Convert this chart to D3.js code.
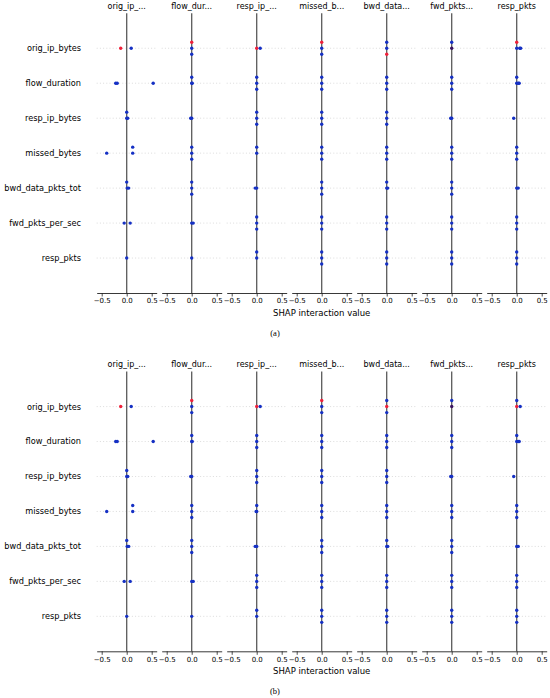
<!DOCTYPE html>
<html><head><meta charset="utf-8">
<script src="https://cdn.jsdelivr.net/npm/d3@7"></script>
<style>body{margin:0;background:#fff}svg{display:block}text{font-family:"DejaVu Sans",sans-serif}</style>
</head><body><svg id="chart" width="550" height="698"></svg>
<script>
// ---------- data ----------
const features = ["orig_ip_bytes","flow_duration","resp_ip_bytes","missed_bytes","bwd_data_pkts_tot","fwd_pkts_per_sec","resp_pkts"];
const columnTitles = ["orig_ip_...","flow_dur...","resp_ip_...","missed_b...","bwd_data...","fwd_pkts...","resp_pkts"];
const tickValues = [-0.5, 0, 0.5];
const xLabel = "SHAP interaction value";
const captions = ["(a)", "(b)"];
// dots: [column, row, SHAP interaction value, swarm lane, feature level (0 low .. 1 high)]
const dotsA = [
 [0,0,-0.12,0,1],[0,0,0.09,0,0],
 [0,1,-0.22,0,0],[0,1,-0.19,0,0],[0,1,0.53,0,0],
 [0,2,0,-1,0],[0,2,0,0,0],[0,2,0.02,0,0],
 [0,3,0.12,-1,0],[0,3,0.12,0,0],[0,3,-0.40,0,0],
 [0,4,0,-1,0],[0,4,0.01,0,0],[0,4,0.04,0,0],
 [0,5,-0.05,0,0],[0,5,0.07,0,0],
 [0,6,0,0,0],
 [1,0,0,-1,1],[1,0,0,0,0],[1,0,0,1,0],
 [1,1,0,-1,0],[1,1,0,0,0],[1,1,0.01,0,0],
 [1,2,-0.02,0,0],[1,2,0,0,0],
 [1,3,0,-1,0],[1,3,0,0,0],[1,3,0,1,0],
 [1,4,0,-1,0],[1,4,0,0,0],[1,4,0,1,0],
 [1,5,0,0,0],[1,5,0.03,0,0],
 [1,6,0,0,0],
 [2,0,0,0,1],[2,0,0.07,0,0],
 [2,1,0,-1,0],[2,1,0,0,0],[2,1,0,1,0],
 [2,2,0,-1,0],[2,2,0,0,0],[2,2,0,1,0],
 [2,3,0,-1,0],[2,3,0,0,0],
 [2,4,-0.03,0,0],[2,4,0,0,0],
 [2,5,0,-1,0],[2,5,0,0,0],[2,5,0,1,0],
 [2,6,0,-1,0],[2,6,0,0,0],
 [3,0,0,-1,1],[3,0,0,0,0],[3,0,0,1,0],
 [3,1,0,-1,0],[3,1,0,0,0],[3,1,0,1,0],
 [3,2,0,-1,0],[3,2,0,0,0],[3,2,0,1,0],
 [3,3,0,-1,0],[3,3,0,0,0],[3,3,0,1,0],
 [3,4,0,-1,0],[3,4,0,0,0],[3,4,0,1,0],
 [3,5,0,-1,0],[3,5,0,0,0],[3,5,0,1,0],
 [3,6,0,-1,0],[3,6,0,0,0],[3,6,0,1,0],
 [4,0,0,-1,0],[4,0,0,0,0],[4,0,0,1,1],
 [4,1,0,-1,0],[4,1,0,0,0],[4,1,0,1,0],
 [4,2,0,-1,0],[4,2,0,0,0],[4,2,0,1,0],
 [4,3,0,-1,0],[4,3,0,0,0],[4,3,0,1,0],
 [4,4,0,-1,0],[4,4,0,0,0],[4,4,0.02,0,0],
 [4,5,0,-1,0],[4,5,0,0,0],[4,5,0,1,0],
 [4,6,0,-1,0],[4,6,0,0,0],[4,6,0,1,0],
 [5,0,0,-1,0],[5,0,0,0,0.5],
 [5,1,0,-1,0],[5,1,0,0,0],[5,1,0,1,0],
 [5,2,-0.02,0,0],[5,2,0,0,0],
 [5,3,0,-1,0],[5,3,0,0,0],[5,3,0,1,0],
 [5,4,0,-1,0],[5,4,0,0,0],[5,4,0,1,0],
 [5,5,0,-1,0],[5,5,0,0,0],[5,5,0,1,0],
 [5,6,0,-1,0],[5,6,0,0,0],[5,6,0,1,0],
 [6,0,0,-1,1],[6,0,0,0,0],[6,0,0.06,0,0],[6,0,0.08,0,0],
 [6,1,0,-1,0],[6,1,0,0,0],[6,1,0.03,0,0],[6,1,0.05,0,0],
 [6,2,-0.06,0,0],
 [6,3,0,-1,0],[6,3,0,0,0],[6,3,0,1,0],
 [6,4,0,0,0],[6,4,0.03,0,0],
 [6,5,0,-1,0],[6,5,0,0,0],[6,5,0,1,0],
 [6,6,0,-1,0],[6,6,0,0,0],[6,6,0,1,0]
];
const dotsB = [
 [0,0,-0.12,0,1],[0,0,0.09,0,0],
 [0,1,-0.22,0,0],[0,1,-0.19,0,0],[0,1,0.53,0,0],
 [0,2,0,-1,0],[0,2,0,0,0],[0,2,0.02,0,0],
 [0,3,0.12,-1,0],[0,3,0.12,0,0],[0,3,-0.40,0,0],
 [0,4,0,-1,0],[0,4,0.01,0,0],[0,4,0.04,0,0],
 [0,5,-0.05,0,0],[0,5,0.07,0,0],
 [0,6,0,0,0],
 [1,0,0,-1,1],[1,0,0,0,0],[1,0,0,1,0],
 [1,1,0,-1,0],[1,1,0,0,0],[1,1,0.01,0,0],
 [1,2,-0.02,0,0],[1,2,0,0,0],
 [1,3,0,-1,0],[1,3,0,0,0],[1,3,0,1,0],
 [1,4,0,-1,0],[1,4,0,0,0],[1,4,0,1,0],
 [1,5,0,0,0],[1,5,0.03,0,0],
 [1,6,0,0,0],
 [2,0,0,0,1],[2,0,0.07,0,0],
 [2,1,0,-1,0],[2,1,0,0,0],[2,1,0,1,0],
 [2,2,0,-1,0],[2,2,0,0,0],[2,2,0,1,0],
 [2,3,0,-1,0],[2,3,-0.01,0,0],[2,3,0,0,0],
 [2,4,-0.03,0,0],[2,4,0,0,0],
 [2,5,0,-1,0],[2,5,0,0,0],[2,5,0,1,0],
 [2,6,0,-1,0],[2,6,0,0,0],
 [3,0,0,-1,1],[3,0,0,0,0],[3,0,0,1,0],
 [3,1,0,-1,0],[3,1,0,0,0],[3,1,0,1,0],
 [3,2,0,-1,0],[3,2,0,0,0],[3,2,0,1,0],
 [3,3,0,-1,0],[3,3,0,0,0],[3,3,0,1,0],
 [3,4,0,-1,0],[3,4,0,0,0],[3,4,0,1,0],
 [3,5,0,-1,0],[3,5,0,0,0],[3,5,0,1,0],
 [3,6,0,-1,0],[3,6,0,0,0],[3,6,0,1,0],
 [4,0,0,-1,0],[4,0,0,0,1],[4,0,0,1,0],
 [4,1,0,-1,0],[4,1,0,0,0],[4,1,0,1,0],
 [4,2,0,-1,0],[4,2,0,0,0],[4,2,0,1,0],
 [4,3,0,-1,0],[4,3,0,0,0],[4,3,0,1,0],
 [4,4,0,-1,0],[4,4,0,0,0],[4,4,0.02,0,0],
 [4,5,0,-1,0],[4,5,0,0,0],[4,5,0,1,0],
 [4,6,0,-1,0],[4,6,0,0,0],[4,6,0,1,0],
 [5,0,0,-1,0],[5,0,0,0,0.5],
 [5,1,0,-1,0],[5,1,0,0,0],[5,1,0,1,0],
 [5,2,-0.02,0,0],[5,2,0,0,0],
 [5,3,0,-1,0],[5,3,0,0,0],[5,3,0,1,0],
 [5,4,0,-1,0],[5,4,0,0,0],[5,4,0,1,0],
 [5,5,0,-1,0],[5,5,0,0,0],[5,5,0,1,0],
 [5,6,0,-1,0],[5,6,0,0,0],[5,6,0,1,0],
 [6,0,0,-1,0],[6,0,0,0,1],[6,0,0.07,0,0],
 [6,1,0,-1,0],[6,1,0,0,0],[6,1,0.03,0,0],[6,1,0.05,0,0],
 [6,2,-0.06,0,0],
 [6,3,0,-1,0],[6,3,0,0,0],[6,3,0,1,0],
 [6,4,0,0,0],[6,4,0.03,0,0],
 [6,5,0,-1,0],[6,5,0,0,0],[6,5,0,1,0],
 [6,6,0,-1,0],[6,6,0,0,0],[6,6,0,1,0]
];
const panels = [dotsA, dotsB];

// ---------- layout ----------
const svg = d3.select("#chart");
const panelOffset = 358.3;
const axTop = 13.3, axBottom = 293;
const firstLeft = 96.7, axW = 60, colStep = 65;
const color = d3.scaleLinear().domain([0, 0.5, 1]).range(["#1530c4", "#3a1460", "#f0203a"]);
const laneScale = d3.scaleLinear().domain([-1, 1]).range([-0.172, 0.172]);

panels.forEach((dots, p) => {
  const oy = p * panelOffset;
  const g = svg.append("g");
  const y = d3.scaleLinear().domain([-1, 7]).range([axTop + oy, axBottom + oy]);

  // row labels
  g.selectAll("text.rowlab").data(features).join("text")
    .attr("class", "rowlab")
    .attr("x", 81).attr("y", (d, i) => y(i)).attr("dy", "0.36em")
    .attr("text-anchor", "end").attr("font-size", 8.2).attr("fill", "#000")
    .text(d => d);

  columnTitles.forEach((title, c) => {
    const x = d3.scaleLinear().domain([-0.6, 0.6]).range([firstLeft + c * colStep, firstLeft + c * colStep + axW]);
    const cg = g.append("g");
    // dotted row guides
    cg.selectAll("line.grid").data(features).join("line")
      .attr("x1", x.range()[0]).attr("x2", x.range()[1])
      .attr("y1", (d, i) => y(i)).attr("y2", (d, i) => y(i))
      .attr("stroke", "#c4c4c4").attr("stroke-width", 0.6).attr("stroke-dasharray", "1,2.2");
    // zero line
    cg.append("line")
      .attr("x1", x(0)).attr("x2", x(0)).attr("y1", y(-1)).attr("y2", y(7))
      .attr("stroke", "#5a5a5a").attr("stroke-width", 1.3);
    // axis
    const ax = cg.append("g").attr("transform", `translate(0,${y(7)})`)
      .call(d3.axisBottom(x).tickValues(tickValues).tickFormat(d3.format(".1f")).tickSize(3.5).tickSizeOuter(0).tickPadding(2));
    ax.select(".domain").attr("stroke", "#222").attr("stroke-width", 0.9);
    ax.selectAll(".tick line").attr("stroke", "#222").attr("stroke-width", 0.8);
    ax.selectAll(".tick text").attr("font-family", "DejaVu Sans").attr("font-size", 7).attr("fill", "#000");
    // title
    cg.append("text").attr("x", x(0)).attr("y", oy + 9)
      .attr("text-anchor", "middle").attr("font-size", 8).attr("fill", "#000").text(title);
    // dots
    cg.selectAll("circle").data(dots.filter(d => d[0] === c)).join("circle")
      .attr("cx", d => x(d[2]))
      .attr("cy", d => y(d[1] + laneScale(d[3])))
      .attr("r", 1.7)
      .attr("fill", d => color(d[4]));
  });

  // x label
  g.append("text").attr("x", firstLeft + 3 * colStep + axW / 2).attr("y", oy + 315.5)
    .attr("text-anchor", "middle").attr("font-size", 8.5).attr("fill", "#000").text(xLabel);
  // caption
  g.append("text").attr("x", 275).attr("y", oy + 336)
    .attr("text-anchor", "middle").attr("font-size", 8.5)
    .attr("font-family", "Liberation Serif, serif").style("font-family", "'Liberation Serif', serif")
    .attr("fill", "#000").text(captions[p]);
});
</script></body></html>
